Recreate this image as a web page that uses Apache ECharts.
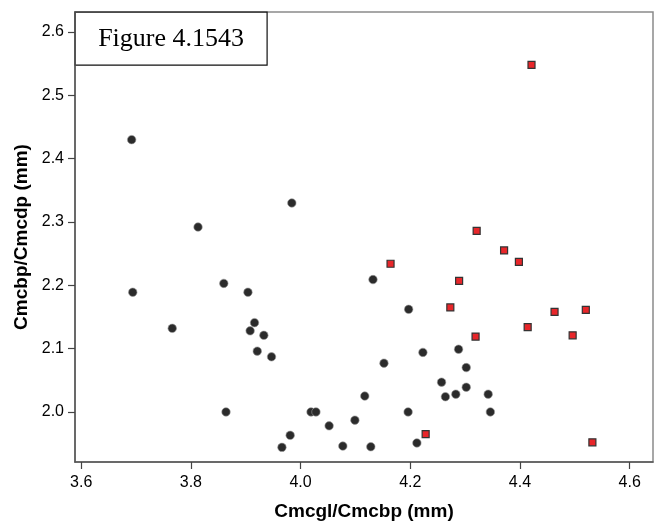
<!DOCTYPE html>
<html>
<head>
<meta charset="utf-8">
<script src="https://cdn.jsdelivr.net/npm/echarts@6/dist/echarts.min.js"></script>
<style>
  html, body { margin: 0; padding: 0; background: #fff; }
  #chart { width: 662px; height: 528px; }
</style>
</head>
<body>
<div id="chart"></div>
<script>
// group 1 (black circles)
const blackX = [3.692, 3.813, 3.984, 3.694, 3.766, 3.860, 3.904, 3.916, 3.908, 3.933, 3.921, 3.947,
  3.864, 4.019, 4.028, 3.981, 3.966, 4.052, 4.132, 4.197, 4.223, 4.288, 4.152, 4.302,
  4.257, 4.302, 4.264, 4.283, 4.342, 4.346, 4.196, 4.117, 4.099, 4.077, 4.128, 4.212]
const blackY = [2.430, 2.292, 2.330, 2.189, 2.132, 2.203, 2.189, 2.141, 2.128, 2.121, 2.096, 2.087,
  2.000, 2.000, 2.000, 1.963, 1.944, 1.978, 2.209, 2.162, 2.094, 2.099, 2.077, 2.070,
  2.047, 2.039, 2.024, 2.028, 2.028, 2.000, 2.000, 2.025, 1.987, 1.946, 1.945, 1.951]

// group 2 (red squares)
const redX = [4.421, 4.321, 4.371, 4.398, 4.164, 4.289, 4.273, 4.463, 4.520, 4.414, 4.319, 4.496, 4.228, 4.532]
const redY = [2.548, 2.286, 2.255, 2.237, 2.234, 2.207, 2.165, 2.158, 2.161, 2.134, 2.119, 2.121, 1.965, 1.952]

const xTicks = [3.6, 3.8, 4.0, 4.2, 4.4, 4.6]
const yTicks = [2.0, 2.1, 2.2, 2.3, 2.4, 2.5, 2.6]

const zip = (xs, ys) => xs.map((x, i) => [x, ys[i]])

const chart = echarts.init(document.getElementById('chart'))

const option = {
  animation: false,
  grid: {
    left: 75,
    right: 9,
    top: 12,
    bottom: 66,
    show: true,
    borderColor: '#8a8a8a',
    borderWidth: 1.5
  },
  xAxis: {
    type: 'value',
    min: 3.5887,
    max: 4.6425,
    name: 'Cmcgl/Cmcbp (mm)',
    nameLocation: 'middle',
    nameGap: 40,
    nameTextStyle: { fontFamily: 'Liberation Sans', fontWeight: 'bold', fontSize: 19, color: '#000' },
    axisLine: { show: true, onZero: false, lineStyle: { color: '#555', width: 1.5 } },
    // label margin counts from the axis line, so it includes the tick length
    axisTick: { show: true, inside: false, customValues: xTicks, length: 7, lineStyle: { color: '#444', width: 1.2 } },
    axisLabel: {
      customValues: xTicks,
      margin: 13,
      fontFamily: 'Liberation Sans',
      fontSize: 16,
      color: '#000',
      formatter: v => v.toFixed(1)
    },
    splitLine: { show: false }
  },
  yAxis: {
    type: 'value',
    min: 1.9209,
    max: 2.6316,
    name: 'Cmcbp/Cmcdp (mm)',
    nameLocation: 'middle',
    nameGap: 44,
    nameTextStyle: { fontFamily: 'Liberation Sans', fontWeight: 'bold', fontSize: 19, color: '#000' },
    axisLine: { show: true, onZero: false, lineStyle: { color: '#555', width: 1.5 } },
    axisTick: { show: true, inside: false, customValues: yTicks, length: 7, lineStyle: { color: '#444', width: 1.2 } },
    axisLabel: {
      customValues: yTicks,
      margin: 11,
      fontFamily: 'Liberation Sans',
      fontSize: 16,
      color: '#000',
      formatter: v => v.toFixed(1)
    },
    splitLine: { show: false }
  },
  series: [
    {
      type: 'scatter',
      data: zip(blackX, blackY),
      symbol: 'circle',
      symbolSize: 8.5,
      itemStyle: { color: '#2b2b2b', borderColor: '#9a9a9a', borderWidth: 0.6, opacity: 1 }
    },
    {
      type: 'scatter',
      data: zip(redX, redY),
      symbol: 'rect',
      symbolSize: 7,
      itemStyle: { color: '#e8262a', borderColor: '#333', borderWidth: 1.2, opacity: 1 }
    }
  ],
  graphic: [
    {
      type: 'group',
      left: 74.5,
      top: 11.5,
      z: 100,
      children: [
        {
          type: 'rect',
          shape: { x: 0, y: 0, width: 192, height: 53 },
          style: { fill: '#fff', stroke: '#111', lineWidth: 1.2 }
        },
        {
          type: 'text',
          x: 96,
          y: 27,
          style: {
            text: 'Figure 4.1543',
            fontFamily: 'Liberation Serif',
            fontSize: 26,
            fill: '#000',
            align: 'center',
            verticalAlign: 'middle'
          }
        }
      ]
    }
  ]
}

chart.setOption(option)
</script>
</body>
</html>
